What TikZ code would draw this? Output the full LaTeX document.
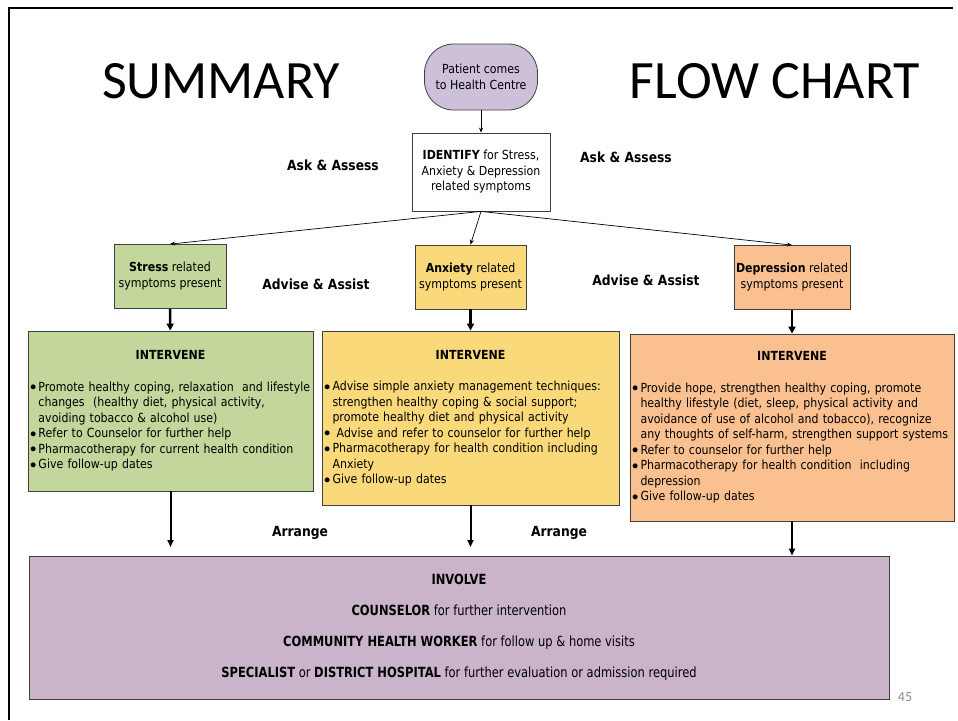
\documentclass[tikz,border=0pt]{standalone}
\usepackage{fontspec}
\setmainfont{DejaVu Sans}[FakeStretch=0.88]
\newfontfamily\titlefont{Carlito}
\newfontfamily\narrowfont{DejaVu Sans}[FakeStretch=0.82]
\usepackage{tikz}
\usetikzlibrary{positioning, arrows.meta}
\definecolor{pLav}{HTML}{CDC1DA}
\definecolor{sGreen}{HTML}{C3D69B}
\definecolor{aGold}{HTML}{F9D97A}
\definecolor{dPeach}{HTML}{FAC090}
\definecolor{iMauve}{HTML}{CAB4CA}
\definecolor{bEdge}{HTML}{404040}
\definecolor{pNum}{HTML}{8C8C8C}
\newcommand{\itm}{\makebox[8.5pt][l]{\raisebox{0.3pt}{\scalebox{1.05}{$\bullet$}}}}
\newcommand{\cnt}{\hspace*{8.5pt}}
\tikzset{
  flowbox/.style={draw=bEdge, line width=0.8pt, align=center, inner sep=2pt,
    font=\fontsize{12.5}{15.5}\selectfont},
  symbox/.style={flowbox, minimum width=#1, minimum height=64pt, font=\fontsize{12.5}{16}\selectfont},
  actbox/.style={flowbox, align=left, text width=#1, inner xsep=2pt},
  phase/.style={font=\bfseries\fontsize{14}{16}\selectfont},
  thinarr/.style={-{Stealth[length=5pt,width=4pt]}, line width=0.7pt},
  thickarr/.style={-{Triangle[length=7pt,width=7pt]}, line width=2.5pt},
  midarr/.style={-{Triangle[length=7pt,width=6pt]}, line width=2pt},
}

\begin{document}
\begin{tikzpicture}[>=Stealth, x=1pt, y=-1pt]
  \useasboundingbox (0,0) rectangle (958,720);
  \draw[line width=2.2pt] (9,720) -- (9,8) -- (953,8);
  \node[font=\titlefont\fontsize{54}{54}\selectfont, anchor=base] (ttlL) at (221,98) {SUMMARY};
  \node[font=\titlefont\fontsize{54}{54}\selectfont, anchor=base] (ttlR) at (775,98) {FLOW CHART};

  \node[flowbox, fill=pLav, rounded corners=29pt, minimum width=113pt, minimum height=66pt] (patient) at (481,77)
    {Patient comes\\to Health Centre};
  \node[flowbox, fill=white, minimum width=138pt, minimum height=78pt] (identify) at (481,172)
    {\textbf{IDENTIFY} for Stress,\\Anxiety \& Depression\\related symptoms};

  \node[symbox=112pt, fill=sGreen] (stress) at (170,276.5) {\textbf{Stress} related\\symptoms present};
  \node[symbox=111pt, fill=aGold] (anxiety) at (470.5,277) {\textbf{Anxiety} related\\symptoms present};
  \node[symbox=116pt, fill=dPeach] (depress) at (792,277.5) {\textbf{Depression} related\\symptoms present};

  \foreach \x/\y/\t [count=\k] in {333/165/Ask \& Assess, 626/157/Ask \& Assess, 316/284/Advise \& Assist,
      646/280/Advise \& Assist, 300/533/Arrange, 559/533/Arrange}
    \node[phase] (tag\k) at (\x,\y) {\t};

  \node[actbox=281pt, fill=sGreen, minimum height=160pt] (stressAct) at (170.5,411) {%
    {\centering\textbf{INTERVENE}\par}\vspace{16pt}
    \itm Promote healthy coping, relaxation\ \ and lifestyle\\
    \cnt changes\ \ (healthy diet, physical activity,\\
    \cnt avoiding tobacco \& alcohol use)\\
    \itm Refer to Counselor for further help\\
    \itm Pharmacotherapy for current health condition\\
    \itm Give follow-up dates};
  \node[actbox=293pt, fill=aGold, minimum height=174pt] (anxietyAct) at (470.5,418) {%
    {\centering\textbf{INTERVENE}\par}\vspace{16pt}
    \itm Advise simple anxiety management techniques:\\
    \cnt strengthen healthy coping \& social support;\\
    \cnt promote healthy diet and physical activity\\
    \itm\ Advise and refer to counselor for further help\\
    \itm Pharmacotherapy for health condition including\\
    \cnt Anxiety\\
    \itm Give follow-up dates};
  \node[actbox=320pt, fill=dPeach, minimum height=187pt] (depressAct) at (792,427.5) {%
    {\centering\textbf{INTERVENE}\par}\vspace{16pt}
    \itm Provide hope, strengthen healthy coping, promote\\
    \cnt healthy lifestyle (diet, sleep, physical activity and\\
    \cnt avoidance of use of alcohol and tobacco), recognize\\
    \cnt any thoughts of self-harm, strengthen support systems\\
    \itm Refer to counselor for further help\\
    \itm Pharmacotherapy for health condition\ \ including\\
    \cnt depression\\
    \itm Give follow-up dates};

  \node[flowbox, fill=iMauve, minimum width=860pt, minimum height=143pt,
    font=\narrowfont\fontsize{14}{31}\selectfont] (involve) at (459,627.5)
    {\textbf{INVOLVE}\\
     \textbf{COUNSELOR} for further intervention\\
     \textbf{COMMUNITY HEALTH WORKER} for follow up \& home visits\\
     \textbf{SPECIALIST} or \textbf{DISTRICT HOSPITAL} for further evaluation or admission required};
  \node[font=\titlefont\fontsize{14}{14}\selectfont, text=pNum] (pgnum) at (905,697) {45};

  \coordinate (endS) at (170.5,547);
  \coordinate (endA) at (470.5,547);

  \draw[thinarr] (patient) -- (identify);
  \draw[thinarr] (identify.south) -- (stress.north);
  \draw[thinarr] (identify.south) -- (anxiety.north);
  \draw[thinarr] (identify.south) -- (depress.north);
  \draw[thickarr] (stress) -- (stressAct);
  \draw[thickarr] (anxiety) -- (anxietyAct);
  \draw[thickarr] (depress) -- (depressAct);
  \draw[midarr] (stressAct) -- (endS);
  \draw[midarr] (anxietyAct) -- (endA);
  \draw[midarr] (depressAct.south) -- (depressAct.south |- involve.north);
\end{tikzpicture}
\end{document}
